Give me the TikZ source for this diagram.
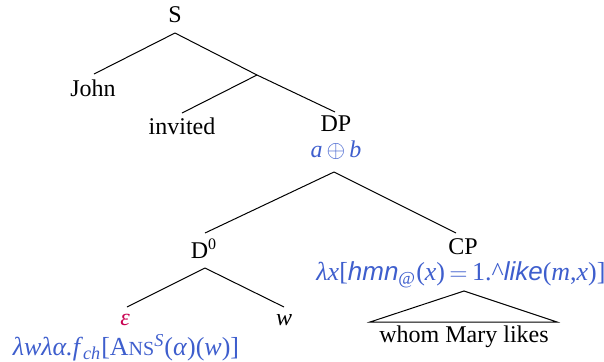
\documentclass[tikz,border=0pt]{standalone}
\usepackage{fontspec}
\setmainfont{Liberation Serif}
\newfontfamily\hvit{Liberation Sans}
\definecolor{semblue}{RGB}{62,94,205}
\definecolor{epsred}{RGB}{200,0,80}
\newcommand{\sfit}[1]{{\hvit\itshape #1}}
\newcommand{\ansop}{A{\fontsize{10}{11}\selectfont NS}}
\newcommand{\mi}[1]{\textit{#1}}
\begin{document}
\begin{tikzpicture}[x=0.5pt,y=-0.5pt,
  lab/.style={inner sep=0pt,font=\fontsize{12}{14}\selectfont},
  sem/.style={inner sep=0pt,font=\fontsize{13}{15}\selectfont,text=semblue},
  edge/.style={line width=0.5pt,black}]
\useasboundingbox (0,0) rectangle (604,361);
% labels
\node[lab] (S) at (175,15) {S};
\node[lab] (John) at (93,88) {John};
\node[lab] (invited) at (182,126) {invited};
\node[lab] (DP) at (336,124) {DP};
\node[sem,font=\fontsize{12}{14}\selectfont] (DPsem) at (336,150) {\mi{a}\,$\oplus$\,\mi{b}};
\node[lab] (D0) at (204,249) {D\textsuperscript{0}};
\node[lab] (CP) at (463,247) {CP};
\node[sem] (CPsem) at (461,275) {\mi{λx}[\sfit{hmn}\textsubscript{@}(\mi{x})\,$=$\,1.\^{}\sfit{like}(\mi{m},\mi{x})]};
\node[lab,text=epsred] (eps) at (125,320) {\mi{ε}};
\node[lab] (w) at (284,320) {\mi{w}};
\node[sem] (Dsem) at (126,348) {\mi{λwλα.f}\textsubscript{\mi{ch}}[\ansop\textsuperscript{\mi{S}}(\mi{α})(\mi{w})]};
\node[lab] (whom) at (464,337) {whom Mary likes};
% branching points
\coordinate (Sb) at (175,33);
\coordinate (Johnt) at (94,74);
\coordinate (VP) at (257,75);
\coordinate (invt) at (182,113);
\coordinate (DPt) at (335,112);
\coordinate (DPb) at (334,172);
\coordinate (D0t) at (205,233);
\coordinate (CPt) at (456,233);
\coordinate (D0b) at (205,268);
\coordinate (epst) at (127,307);
\coordinate (wt) at (284,307);
\coordinate (tri) at (464,291);
\coordinate (triL) at (370,322);
\coordinate (triR) at (557,322);
% edges
\draw[edge] (Sb) -- (Johnt);
\draw[edge] (Sb) -- (VP);
\draw[edge] (VP) -- (invt);
\draw[edge] (VP) -- (DPt);
\draw[edge] (DPb) -- (D0t);
\draw[edge] (DPb) -- (CPt);
\draw[edge] (D0b) -- (epst);
\draw[edge] (D0b) -- (wt);
\draw[edge] (tri) -- (triL) -- (triR) -- cycle;
\end{tikzpicture}
\end{document}
